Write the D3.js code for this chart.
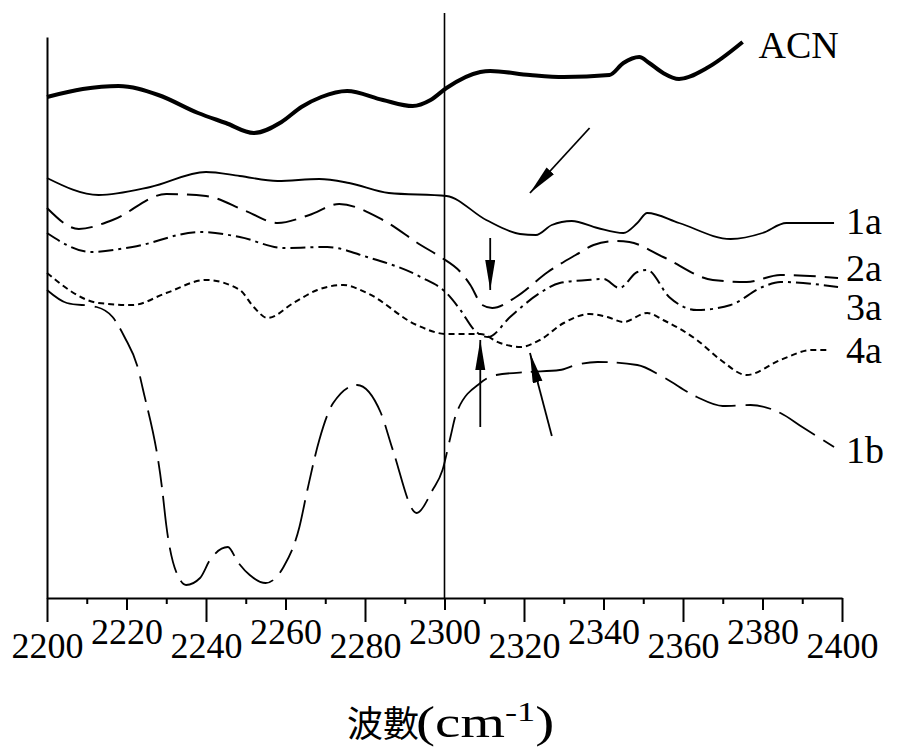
<!DOCTYPE html>
<html lang="zh-Hant">
<head>
    <meta charset="UTF-8">
    <title>IR 2200-2400</title>
    <style>
        body { margin: 0; background: #fff; }
        svg { display: block; }
    </style>
</head>
<body>
    <svg id="chart" width="898" height="756"></svg>

<script src="https://cdn.jsdelivr.net/npm/d3@7/dist/d3.min.js"></script>
<script>

    // [wavenumber cm-1, signal a.u.]
    const acn = [[2200,501],[2209,509],[2218,512],[2228,503],[2238,485],[2245,475],[2252,465],
        [2259,476],[2264,491],[2269,501],[2275.5,507],[2284.5,498],[2292,492],[2296.5,498],
        [2300.5,510],[2309,526],[2311.5,527],[2321.5,523],[2330,521],[2341.5,523],[2345,535],
        [2349,541],[2351.5,535],[2355,525],[2359,519],[2366,530],[2375,556]]

    const s1a = [[2200,420],[2213,403],[2226,411],[2240,426],[2248.5,422],[2258,417],[2268.5,419],
        [2276,415],[2286,405],[2300.5,402],[2310.5,378],[2319,364],[2323,363],[2327,373],
        [2332,377],[2338.5,370],[2345,365],[2348.5,375],[2351,385],[2359,375],[2372,359],
        [2380,365],[2386,375],[2398,375]]

    const s2a = [[2200,390],[2208,369],[2216.5,378],[2230,404],[2240,402],[2250,387],[2258,375],
        [2266,383],[2273.5,394],[2284.5,378],[2294,353],[2299,341],[2304,326],[2306.5,313],
        [2309.5,293],[2312,290],[2318,301],[2326,326],[2333,343],[2337.5,353],[2343,357],
        [2346.5,356],[2355,341],[2367.5,318],[2376,316],[2384.5,323],[2399,320]]

    const s3a = [[2200,365],[2211,346],[2221.5,351],[2238.5,366],[2248.5,361],[2259.5,350],
        [2270.5,351],[2280.5,341],[2294,321],[2300.5,305],[2304,288],[2307.5,268],[2311,261],
        [2316.5,281],[2324,305],[2329,315],[2336,318],[2340,319],[2344,310],[2348.5,326],
        [2351,328],[2356.5,301],[2363.5,288],[2372,293],[2380,311],[2384.5,316],[2399,311]]

    const s4a = [[2200,325],[2213,295],[2221.5,293],[2230,305],[2240,318],[2248.5,308],[2252,291],
        [2255.5,280],[2262,295],[2268,308],[2274.5,313],[2280.5,305],[2293,273],[2300.5,264],
        [2309,264],[2314,255],[2319,251],[2324,258],[2330,275],[2336.5,284],[2341,281],
        [2345,276],[2351,285],[2355,278],[2363.5,258],[2369.5,238],[2376,223],[2384.5,238],
        [2392.5,248],[2397,248]]

    const s1b = [[2200,308],[2205,295],[2212.5,291],[2216.5,281],[2219.5,261],[2223,228],
        [2224,211],[2229,108],[2230,73],[2233.5,18],[2235,13],[2238.5,20],[2241,38],[2245.5,51],
        [2248,36],[2251,23],[2255,15],[2259.5,31],[2263.5,71],[2265.5,108],[2268.5,158],
        [2272,195],[2278,213],[2284,185],[2287,148],[2293,85],[2297,108],[2299.5,128],
        [2301.5,161],[2303,185],[2309,215],[2313,223],[2321,226],[2329,228],[2333,233],
        [2338.5,236],[2348.5,233],[2355,221],[2363.5,201],[2370,192],[2377,193],[2384.5,185],
        [2390,171],[2398,151]]

    const xTicks = d3.range(2200, 2401, 10)

    let svg = d3.select("#chart")

    let x = d3.scaleLinear()
        .domain([2200, 2400])
        .range([47, 842])

    let y = d3.scaleLinear()
        .domain([0, 561])
        .range([598, 37])

    let line = d3.line()
        .x(d => x(d[0]))
        .y(d => y(d[1]))
        .curve(d3.curveMonotoneX)

    let series = [
        {name: "ACN", data: acn, width: 4, dash: null, lx: 2379, ly: 540},
        {name: "1a", data: s1a, width: 1.8, dash: null, lx: 2401, ly: 364},
        {name: "2a", data: s2a, width: 2, dash: "22,9", lx: 2401, ly: 317},
        {name: "3a", data: s3a, width: 2, dash: "15,5,3,5", lx: 2401, ly: 278},
        {name: "4a", data: s4a, width: 2, dash: "6,4", lx: 2401, ly: 235},
        {name: "1b", data: s1b, width: 1.8, dash: "42,10,26,9", lx: 2401, ly: 135}
    ]

    // axes
    let xAxis = d3.axisBottom(x)
        .tickValues(xTicks)
        .tickSize(6)
        .tickSizeOuter(0)
        .tickFormat(d => d % 20 === 0 ? d : "")

    let gx = svg.append("g")
        .attr("transform", "translate(0," + y(0) + ")")
        .call(xAxis)

    gx.select(".domain").attr("stroke", "#000").attr("stroke-width", 2)
    gx.selectAll(".tick line")
        .attr("stroke", "#000")
        .attr("stroke-width", 2)
        .attr("y2", d => d % 40 === 0 ? 24 : (d % 20 === 0 ? 12 : 6))
    gx.selectAll(".tick text")
        .attr("fill", "#000")
        .attr("font-family", "'Liberation Serif', 'Times New Roman', serif")
        .attr("font-size", 36)
        .attr("dy", 0)
        .attr("y", d => d % 40 === 0 ? 60 : 46)

    let gy = svg.append("g")
        .attr("transform", "translate(" + x(2200) + ",0)")
        .call(d3.axisLeft(y).tickValues([]).tickSizeOuter(0))
    gy.select(".domain").attr("stroke", "#000").attr("stroke-width", 2)

    // reference line at 2300
    svg.append("line")
        .attr("x1", x(2300)).attr("x2", x(2300))
        .attr("y1", y(0)).attr("y2", y(585))
        .attr("stroke", "#000")
        .attr("stroke-width", 1.6)

    // spectra
    svg.selectAll("path.spectrum")
        .data(series)
        .enter()
        .append("path")
        .attr("class", "spectrum")
        .attr("fill", "none")
        .attr("stroke", "#000")
        .attr("stroke-width", d => d.width)
        .attr("stroke-dasharray", d => d.dash)
        .attr("d", d => line(d.data))

    svg.selectAll("text.label")
        .data(series)
        .enter()
        .append("text")
        .attr("class", "label")
        .attr("x", d => x(d.lx))
        .attr("y", d => y(d.ly))
        .attr("font-family", "'Liberation Serif', 'Times New Roman', serif")
        .attr("font-size", 38)
        .text(d => d.name)

    // arrows [from, to] in data units
    let arrows = [
        [[2336.5, 470], [2321.5, 405]],
        [[2311.5, 360], [2311.5, 308]],
        [[2309, 171], [2309, 258]],
        [[2327, 162], [2321.5, 245]]
    ]

    svg.append("defs").append("marker")
        .attr("id", "head")
        .attr("markerUnits", "userSpaceOnUse")
        .attr("markerWidth", 32)
        .attr("markerHeight", 12)
        .attr("refX", 30)
        .attr("refY", 5)
        .attr("orient", "auto")
        .append("path")
        .attr("d", "M0,0 L30,5 L0,10 Z")
        .attr("fill", "#000")

    svg.selectAll("line.arrow")
        .data(arrows)
        .enter()
        .append("line")
        .attr("class", "arrow")
        .attr("x1", d => x(d[0][0]))
        .attr("y1", d => y(d[0][1]))
        .attr("x2", d => x(d[1][0]))
        .attr("y2", d => y(d[1][1]))
        .attr("stroke", "#000")
        .attr("stroke-width", 1.8)
        .attr("marker-end", "url(#head)")

    // axis title: CJK part, then a wide serif "(cm-1)"
    svg.append("text")
        .attr("x", 347)
        .attr("y", 737)
        .attr("font-size", 36)
        .attr("font-family", "'Noto Sans CJK TC', sans-serif")
        .text("波數")

    let unit = svg.append("text")
        .attr("transform", "translate(416,737) scale(1.3,1)")
        .attr("font-size", 44)
        .attr("font-family", "'Liberation Serif', 'Times New Roman', serif")

    unit.append("tspan").text("(cm")
    unit.append("tspan")
        .attr("font-size", 28)
        .attr("dy", -16)
        .text("-1")
    unit.append("tspan")
        .attr("dy", 16)
        .text(")")

</script>
</body>
</html>
